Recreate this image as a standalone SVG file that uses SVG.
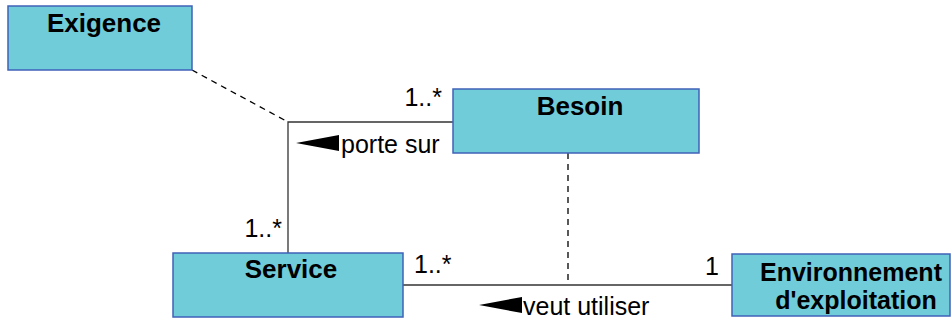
<svg xmlns="http://www.w3.org/2000/svg" width="952" height="320" viewBox="0 0 952 320">
<style>
.box{fill:#70CCD9;stroke:#3F62B8;stroke-width:1.5}
.name{font-family:"Liberation Sans",Arial,sans-serif;font-weight:bold;font-size:26px;fill:#000;text-anchor:middle}
.env{font-size:25px}
.lbl{font-family:"Liberation Sans",Arial,sans-serif;font-size:25px;fill:#000}
.line{stroke:#333;stroke-width:1.3;fill:none}
.dash{stroke:#000;stroke-width:1.3;fill:none;stroke-dasharray:6,5}
</style>
<rect width="952" height="320" fill="#fff"/>
<g id="connectors">
<path class="dash" d="M192,70 L288,122"/>
<path class="line" d="M453,122 L288,122 L288,253"/>
<path class="line" d="M403,285 L732,285"/>
<path class="dash" d="M568,153 L568,285"/>
<text class="lbl" x="442" y="106" text-anchor="end">1..*</text>
<polygon points="296,143 339,135 339,151" fill="#000"/>
<text class="lbl" x="341" y="153">porte sur</text>
<text class="lbl" x="282" y="237" text-anchor="end">1..*</text>
<text class="lbl" x="414" y="273">1..*</text>
<text class="lbl" x="719" y="275" text-anchor="end">1</text>
<polygon points="479,305 522,297 522,313" fill="#000"/>
<text class="lbl" x="523" y="315">veut utiliser</text>
</g>
<g id="exigence">
<rect class="box" x="8" y="6" width="184" height="64"/>
<text class="name" x="104" y="32">Exigence</text>
</g>
<g id="besoin">
<rect class="box" x="453" y="89" width="246" height="64"/>
<text class="name" x="580" y="115">Besoin</text>
</g>
<g id="service">
<rect class="box" x="173" y="253" width="230" height="64"/>
<text class="name" x="291" y="278">Service</text>
</g>
<g id="environnement">
<rect class="box" x="732" y="254" width="218" height="62"/>
<text class="name env" x="851" y="281">Environnement</text>
<text class="name env" x="856" y="309">d'exploitation</text>
</g>
</svg>
